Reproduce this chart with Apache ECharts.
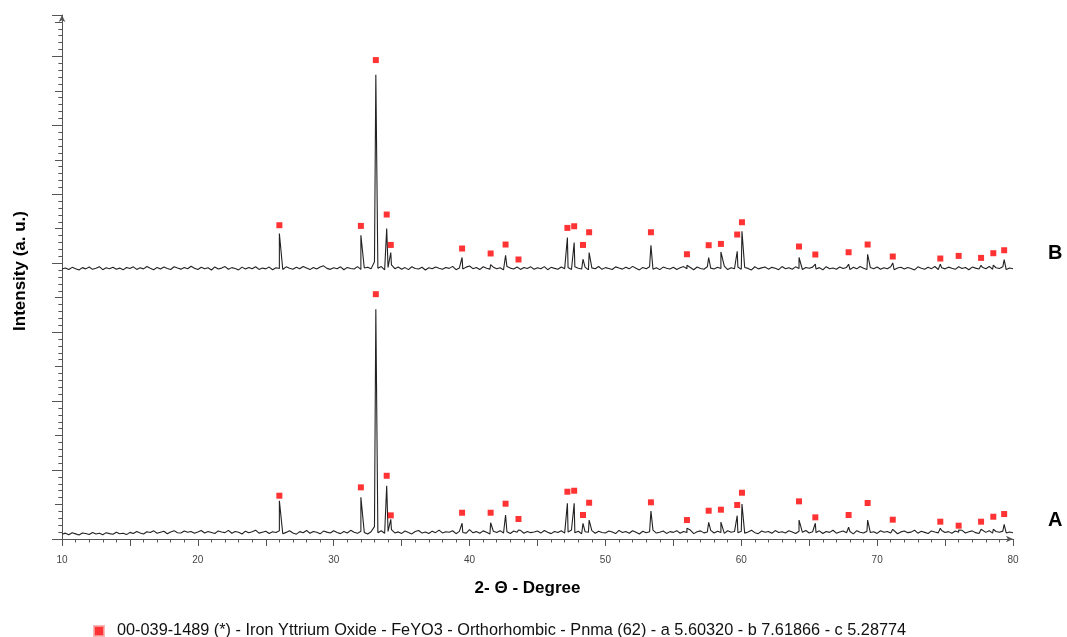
<!DOCTYPE html>
<html>
<head>
<meta charset="utf-8">
<script src="https://cdn.jsdelivr.net/npm/echarts@6/dist/echarts.min.js"></script>
<style>
html,body{margin:0;padding:0;background:#fff;}
#chart{width:1067px;height:637px;}
</style>
</head>
<body>
<div id="chart"></div>
<script>
// ---- data (2-theta in degrees, intensity in arbitrary counts) ----
const gridStart = 10;      // baseline samples start (deg)
const gridStep = 0.25;     // baseline sample spacing (deg)

// background trace of pattern A, one value per 0.25 deg from 10 to 80
const baseA = [
 70,85,62,90,74,58,88,79,66,95,72,84,61,92,78,69,98,75,83,64,
 96,80,110,88,72,105,93,118,84,99,112,76,103,121,90,86,115,97,108,82,
 101,124,88,110,95,79,117,102,92,125,84,108,98,73,114,90,106,128,85,99,
 112,80,104,93,118,76,96,120,88,70,107,91,124,83,110,97,75,115,100,86,
 119,94,78,108,87,126,99,82,113,96,72,105,180,92,120,84,110,135,88,103,
 81,117,95,74,109,123,86,101,79,114,92,128,88,105,97,120,77,111,94,85,
 135,90,107,84,118,99,73,112,95,121,87,104,80,116,98,126,83,109,92,101,
 115,86,124,97,78,110,93,119,85,102,130,89,113,76,106,98,122,84,111,95,
 88,117,101,79,125,94,108,83,119,97,72,112,90,105,128,86,99,115,81,107,
 96,121,84,110,93,130,78,104,118,89,101,125,87,113,95,82,120,99,108,91,
 114,85,103,126,92,77,116,98,109,83,122,95,106,88,119,101,80,112,97,124,
 87,105,93,118,79,110,96,127,84,102,115,90,108,74,121,99,86,113,94,106,
 81,119,97,108,88,124,76,103,115,92,100,128,85,111,96,79,117,102,89,123,
 94,107,83,115,99,126,87,104,118,92,80,112,96,121,85,109,98,114,88,102,
 90
];

// background trace of pattern B (stacked above A)
const baseB = [
 3915,3932,3908,3940,3921,3902,3936,3918,3945,3911,3928,3950,3906,3934,3920,3941,3913,3929,3904,3938,
 3922,3947,3910,3935,3918,3952,3927,3905,3939,3916,3944,3923,3909,3948,3930,3914,3937,3919,3955,3926,
 3908,3941,3920,3933,3902,3946,3917,3929,3951,3912,3936,3924,3903,3943,3915,3938,3921,3949,3910,3931,
 3918,3944,3906,3935,3922,3909,3947,3926,3913,3940,3919,3953,3930,3907,3937,3916,3945,3962,3925,3911,
 3934,3920,3948,3905,3939,3923,3916,3950,3910,3931,3942,3918,4020,3927,3952,3904,3938,3975,3921,3945,
 3913,3936,3907,3949,3924,3917,3941,3902,3933,3919,3946,3928,3911,3939,3925,3954,3906,3932,3915,3943,
 3960,3921,3937,3908,3948,3926,3914,3942,3919,3935,3903,3951,3929,3917,3944,3910,3938,3923,3947,3912,
 3934,3919,3950,3906,3940,3925,3913,3946,3921,3937,3909,3948,3927,3915,3943,3904,3932,3920,3952,3911,
 3936,3922,3908,3947,3930,3914,3941,3918,3954,3926,3903,3939,3921,3949,3912,3935,3907,3944,3928,3916,
 3942,3910,3933,3951,3919,3938,3905,3945,3924,3913,3948,3929,3916,3940,3922,3957,3908,3934,3920,3946,
 3911,3937,3925,3903,3949,3918,3932,3944,3914,3940,3927,3906,3951,3921,3935,3912,3947,3924,3909,3938,
 3926,3943,3915,3936,3904,3950,3920,3931,3913,3946,3923,3939,3907,3942,3918,3953,3928,3910,3937,3921,
 3945,3912,3934,3919,3948,3905,3930,3941,3916,3938,3924,3902,3947,3927,3913,3940,3921,3952,3909,3935,
 3918,3943,3926,3911,3949,3922,3937,3906,3944,3929,3915,3940,3920,3953,3912,3934,3924,3947,3908,3931,
 3919
];

// reference peak positions (deg) of 00-039-1489
const peakX = [26.0,32.0,33.1,33.9,34.2,39.45,41.55,42.65,43.6,47.2,47.7,48.35,48.8,53.35,56.0,57.6,58.5,59.7,60.05,64.25,65.45,67.9,69.3,71.15,74.65,76.0,77.65,78.55,79.35];

// measured peak tops
const peakA = [555,604,3333,772,286,228,236,348,130,517,517,228,275,406,155,242,246,338,507,275,228,170,275,141,155,130,141,141,213];
const peakB = [4430,4406,6735,4503,4155,4083,3981,4116,3957,4372,4300,4058,4155,4261,3971,4083,4164,4174,4464,4083,3986,3986,4130,4004,3986,3971,3971,3971,4053];

// reference-pattern markers (red squares)
const markA = [628,749,3551,917,343,381,381,512,290,686,700,348,526,532,275,410,425,493,671,546,314,348,522,280,251,193,251,323,362];
const markB = [4551,4541,6946,4706,4265,4213,4141,4271,4054,4512,4536,4265,4449,4449,4130,4261,4280,4416,4594,4242,4126,4159,4271,4097,4068,4106,4077,4145,4188];

const xTicks = [10,20,30,40,50,60,70,80];
const refName = '00-039-1489 (*) - Iron Yttrium Oxide - FeYO3 - Orthorhombic - Pnma (62) - a 5.60320 - b 7.61866 - c 5.28774';

// ---- build series data ----
function buildTrace(base, peaks) {
  const pts = base.map((v, i) => [+(gridStart + i * gridStep).toFixed(2), v]);
  peakX.forEach((x, i) => pts.push([x, peaks[i]]));
  pts.sort((a, b) => a[0] - b[0]);
  return pts;
}
const lineA = buildTrace(baseA, peakA);
const lineB = buildTrace(baseB, peakB);
const dotsA = peakX.map((x, i) => [x, markA[i]]);
const dotsB = peakX.map((x, i) => [x, markB[i]]);

const FONT = "'Liberation Sans', Arial, sans-serif";
const chart = echarts.init(document.getElementById('chart'), null, {renderer: 'canvas'});
chart.setOption({
  animation: false,
  backgroundColor: '#fff',
  grid: {left: 62, right: 54, top: 15, bottom: 98, containLabel: false},
  legend: {
    data: [refName],
    left: 88, top: 618,
    itemWidth: 10, itemHeight: 10,
    icon: 'rect',
    itemStyle: {color: '#ff0000', borderColor: '#f7a8a8', borderWidth: 2},
    textStyle: {fontFamily: FONT, fontSize: 16.3, color: '#111', padding: [0, 0, 0, 8]}
  },
  xAxis: {
    type: 'value', min: 10, max: 80, interval: 5,
    name: '2- Θ - Degree', nameLocation: 'middle', nameGap: 41,
    nameTextStyle: {fontFamily: FONT, fontSize: 17, fontWeight: 'bold', color: '#000', padding: [0, 20, 0, 0]},
    axisLine: {show: true, lineStyle: {color: '#555', width: 1}, symbol: ['none', 'arrow'], symbolSize: [5, 7]},
    axisTick: {show: true, length: 7, lineStyle: {color: '#555'}},
    minorTick: {show: true, splitNumber: 5, length: 3.5, lineStyle: {color: '#555'}},
    splitLine: {show: false},
    axisLabel: {
      fontFamily: FONT, fontSize: 10, color: '#444', margin: 16,
      formatter: v => xTicks.indexOf(v) >= 0 ? String(v) : ''
    }
  },
  yAxis: [{
    type: 'value', min: 0, max: 7600, interval: 500,
    name: 'Intensity (a. u.)', nameLocation: 'middle', nameGap: 33,
    nameTextStyle: {fontFamily: FONT, fontSize: 17, fontWeight: 'bold', color: '#000', padding: [0, 0, 0, 12]},
    axisLine: {show: true, lineStyle: {color: '#555', width: 1}, symbol: ['none', 'arrow'], symbolSize: [5, 7]},
    axisTick: {show: true, length: 7, lineStyle: {color: '#555'}},
    minorTick: {show: true, splitNumber: 5, length: 3.6, lineStyle: {color: '#555'}},
    splitLine: {show: false},
    axisLabel: {show: false}
  }, {
    type: 'value', min: 0, max: 7600, interval: 1000, position: 'left',
    axisLine: {show: false},
    axisTick: {show: true, length: 10, lineStyle: {color: '#555'}},
    splitLine: {show: false},
    axisLabel: {show: false}
  }],
  series: [
    {name: 'A', type: 'line', data: lineA, showSymbol: false, symbol: 'none',
     lineStyle: {color: '#222', width: 1.1}, z: 2},
    {name: 'B', type: 'line', data: lineB, showSymbol: false, symbol: 'none',
     lineStyle: {color: '#222', width: 1.1}, z: 2},
    {name: refName, type: 'scatter', data: dotsA, symbol: 'rect', symbolSize: 6,
     itemStyle: {color: '#ff0000'}, z: 3},
    {name: refName, type: 'scatter', data: dotsB, symbol: 'rect', symbolSize: 6,
     itemStyle: {color: '#ff0000'}, z: 3}
  ],
  graphic: [
    {type: 'text', left: 1048, top: 510, style: {text: 'A', font: 'bold 20px ' + FONT, fill: '#000'}},
    {type: 'text', left: 1048, top: 243, style: {text: 'B', font: 'bold 20px ' + FONT, fill: '#000'}}
  ]
});
</script>
</body>
</html>
